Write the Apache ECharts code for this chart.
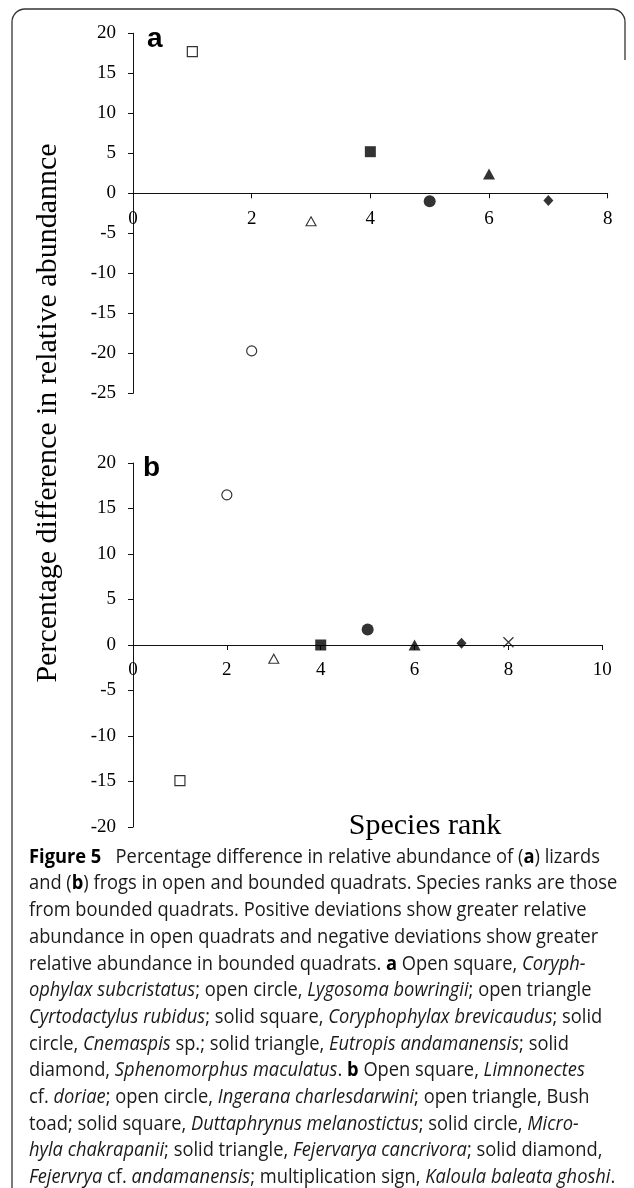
<!DOCTYPE html>
<html>
<head>
<meta charset="utf-8">
<script src="https://cdn.jsdelivr.net/npm/echarts@6/dist/echarts.min.js"></script>
<style>
  html, body { margin: 0; padding: 0; background: #fff; }
  #chart { width: 634px; height: 1188px; }
</style>
</head>
<body>
<div id="chart"></div>
<script>
// ---- Data ----
const ranksA = [1, 2, 3, 4, 5, 6, 7];
const valuesA = [17.7, -19.7, -3.5, 5.2, -1.0, 2.4, -0.9];
const markersA = ['openSquare', 'openCircle', 'openTriangle', 'solidSquare', 'solidCircle', 'solidTriangle', 'solidDiamond'];

const ranksB = [1, 2, 3, 4, 5, 6, 7, 8];
const valuesB = [-14.9, 16.5, -1.5, 0.0, 1.7, 0.0, 0.2, 0.3];
const markersB = ['openSquare', 'openCircle', 'openTriangle', 'solidSquare', 'solidCircle', 'solidTriangle', 'solidDiamond', 'cross'];

const xRangeA = [0, 8], xIntervalA = 2;
const yRangeA = [-25, 20], yIntervalA = 5;
const xRangeB = [0, 10], xIntervalB = 2;
const yRangeB = [-20, 20], yIntervalB = 5;

const panelLabels = ['a', 'b'];
const yAxisTitle = 'Percentage difference in relative abundannce';
const xAxisTitle = 'Species rank';

const captionLines = [
  '{b|Figure 5}   Percentage difference in relative abundance of ({b|a}) lizards',
  'and ({b|b}) frogs in open and bounded quadrats. Species ranks are those',
  'from bounded quadrats. Positive deviations show greater relative',
  'abundance in open quadrats and negative deviations show greater',
  'relative abundance in bounded quadrats. {b|a} Open square, {i|Coryph-}',
  '{i|ophylax subcristatus}; open circle, {i|Lygosoma bowringii}; open triangle',
  '{i|Cyrtodactylus rubidus}; solid square, {i|Coryphophylax brevicaudus}; solid',
  'circle, {i|Cnemaspis} sp.; solid triangle, {i|Eutropis andamanensis}; solid',
  'diamond, {i|Sphenomorphus maculatus}. {b|b} Open square, {i|Limnonectes}',
  'cf. {i|doriae}; open circle, {i|Ingerana charlesdarwini}; open triangle, Bush',
  'toad; solid square, {i|Duttaphrynus melanostictus}; solid circle, {i|Micro-}',
  '{i|hyla chakrapanii}; solid triangle, {i|Fejervarya cancrivora}; solid diamond,',
  '{i|Fejervrya} cf. {i|andamanensis}; multiplication sign, {i|Kaloula baleata ghoshi}.'
];

// ---- Styles / layout ----
const SERIF = 'Liberation Serif, Times New Roman, serif';
const gridA = { left: 133, top: 33.3, width: 474.7, height: 360 };
const gridB = { left: 133, top: 463, width: 469.3, height: 364 };

const markerStyles = {
  openSquare:   { symbol: 'rect', symbolSize: 10, itemStyle: { color: '#fff', borderColor: '#000', borderWidth: 1.2 } },
  solidSquare:  { symbol: 'rect', symbolSize: 11, itemStyle: { color: '#000' } },
  openCircle:   { symbol: 'circle', symbolSize: 10, itemStyle: { color: '#fff', borderColor: '#000', borderWidth: 1.2 } },
  solidCircle:  { symbol: 'circle', symbolSize: 12, itemStyle: { color: '#000' } },
  openTriangle: { symbol: 'triangle', symbolSize: [10, 9], itemStyle: { color: '#fff', borderColor: '#000', borderWidth: 1.1 } },
  solidTriangle:{ symbol: 'triangle', symbolSize: [12, 11], itemStyle: { color: '#000' } },
  solidDiamond: { symbol: 'diamond', symbolSize: [10, 11], itemStyle: { color: '#000' } },
  cross:        { symbol: 'path://M0,0L10,10M10,0L0,10', symbolSize: 10, itemStyle: { color: 'none', borderColor: '#000', borderWidth: 1.2 } }
};

function buildData(ranks, values, markers) {
  return ranks.map((r, i) => Object.assign({ value: [r, values[i]] }, markerStyles[markers[i]]));
}

// x axis sits on y = 0: shift it up from the grid bottom by the zero's distance
function zeroOffset(yRange, grid) {
  return -((0 - yRange[0]) / (yRange[1] - yRange[0])) * grid.height;
}

function xAxisCfg(gi, range, interval, offset) {
  return {
    gridIndex: gi, type: 'value', min: range[0], max: range[1], interval: interval,
    position: 'bottom', offset: offset,
    axisLine: { onZero: false, lineStyle: { color: '#111', width: 1 } },
    axisTick: { show: true, inside: false, length: 5, lineStyle: { color: '#111' } },
    axisLabel: { margin: 16, fontFamily: SERIF, fontSize: 19, color: '#000' },
    splitLine: { show: false }
  };
}
function yAxisCfg(gi, range, interval) {
  return {
    gridIndex: gi, type: 'value', min: range[0], max: range[1], interval: interval,
    axisLine: { show: true, onZero: false, lineStyle: { color: '#111', width: 1 } },
    axisTick: { show: true, inside: false, length: 5, lineStyle: { color: '#111' } },
    axisLabel: { margin: 17, fontFamily: SERIF, fontSize: 19, color: '#000' },
    splitLine: { show: false }
  };
}

const captionTop = 857, captionStep = 26.7, captionScaleX = 0.915;
const captionElements = captionLines.map((line, i) => ({
  type: 'text', x: 29, y: captionTop + i * captionStep, scaleX: captionScaleX, silent: true,
  style: {
    text: line, fontFamily: 'Open Sans', fontSize: 20, fill: '#1a1a1a', verticalAlign: 'middle', align: 'left',
    rich: {
      b: { fontFamily: 'Open Sans', fontSize: 20, fontWeight: 'bold', fill: '#000' },
      i: { fontFamily: 'Open Sans', fontSize: 20, fontStyle: 'italic', fill: '#1a1a1a' }
    }
  }
}));

const borderStyle = { stroke: '#333', lineWidth: 1.3, fill: 'none' };
const borderElements = [
  { type: 'line', silent: true, shape: { x1: 12, y1: 22, x2: 12, y2: 1188 }, style: borderStyle },
  { type: 'arc', silent: true, shape: { cx: 25, cy: 22, r: 13, startAngle: Math.PI, endAngle: Math.PI * 1.5, clockwise: true }, style: borderStyle },
  { type: 'line', silent: true, shape: { x1: 25, y1: 9, x2: 612, y2: 9 }, style: borderStyle },
  { type: 'arc', silent: true, shape: { cx: 612, cy: 22, r: 13, startAngle: Math.PI * 1.5, endAngle: Math.PI * 2, clockwise: true }, style: borderStyle },
  { type: 'line', silent: true, shape: { x1: 625, y1: 22, x2: 625, y2: 60 }, style: borderStyle }
];

const chart = echarts.init(document.getElementById('chart'), null, { renderer: 'canvas' });
chart.setOption({
  animation: false,
  backgroundColor: '#fff',
  grid: [
    Object.assign({ containLabel: false, outerBoundsMode: 'none' }, gridA),
    Object.assign({ containLabel: false, outerBoundsMode: 'none' }, gridB)
  ],
  xAxis: [
    xAxisCfg(0, xRangeA, xIntervalA, zeroOffset(yRangeA, gridA)),
    xAxisCfg(1, xRangeB, xIntervalB, zeroOffset(yRangeB, gridB))
  ],
  yAxis: [yAxisCfg(0, yRangeA, yIntervalA), yAxisCfg(1, yRangeB, yIntervalB)],
  series: [
    { type: 'scatter', xAxisIndex: 0, yAxisIndex: 0, data: buildData(ranksA, valuesA, markersA), silent: true, z: 5 },
    { type: 'scatter', xAxisIndex: 1, yAxisIndex: 1, data: buildData(ranksB, valuesB, markersB), silent: true, z: 5 }
  ],
  graphic: {
    elements: borderElements.concat([
      { type: 'text', x: 147, y: 39, silent: true,
        style: { text: panelLabels[0], fontFamily: 'Liberation Sans, Arial, sans-serif', fontWeight: 'bold', fontSize: 28, fill: '#000', verticalAlign: 'middle' } },
      { type: 'text', x: 143, y: 468, silent: true,
        style: { text: panelLabels[1], fontFamily: 'Liberation Sans, Arial, sans-serif', fontWeight: 'bold', fontSize: 28, fill: '#000', verticalAlign: 'middle' } },
      { type: 'text', x: 48, y: 413, rotation: Math.PI / 2, silent: true,
        style: { text: yAxisTitle, fontFamily: SERIF, fontSize: 30, fill: '#000', align: 'center', verticalAlign: 'middle' } },
      { type: 'text', x: 425, y: 826, silent: true,
        style: { text: xAxisTitle, fontFamily: SERIF, fontSize: 30, fill: '#000', align: 'center', verticalAlign: 'middle' } }
    ]).concat(captionElements)
  }
});
</script>
</body>
</html>
